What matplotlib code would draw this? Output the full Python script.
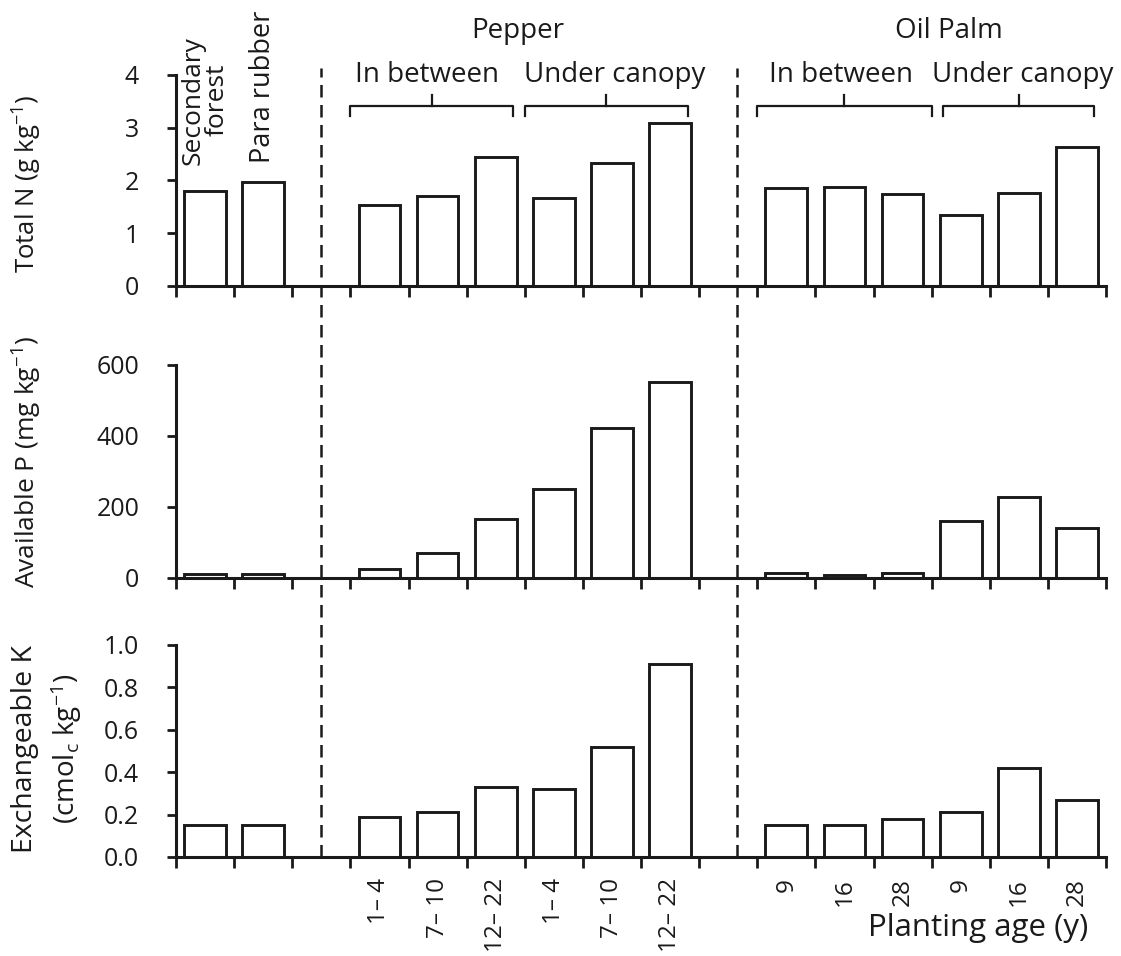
import matplotlib
matplotlib.use("Agg")
import matplotlib.pyplot as plt
from matplotlib.lines import Line2D
from matplotlib.transforms import blended_transform_factory

plt.rcParams["font.family"] = ["Open Sans", "DejaVu Sans"]
plt.rcParams["mathtext.fontset"] = "custom"
plt.rcParams["mathtext.rm"] = "Open Sans"
plt.rcParams["mathtext.it"] = "Open Sans:italic"

# slot index of each bar (slots 2 and 9 are empty gaps)
positions = [0, 1, 3, 4, 5, 6, 7, 8, 10, 11, 12, 13, 14, 15]
age_labels = ["", "", "1\u2013 4", "7\u2013 10", "12\u2013 22", "1\u2013 4", "7\u2013 10", "12\u2013 22",
              "9", "16", "28", "9", "16", "28"]

total_n = [1.81, 1.97, 1.53, 1.71, 2.45, 1.67, 2.34, 3.09, 1.86, 1.88, 1.75, 1.35, 1.77, 2.64]
avail_p = [10, 10, 25, 70, 164, 250, 423, 553, 12, 6, 14, 160, 227, 141]
exch_k = [0.15, 0.15, 0.19, 0.21, 0.33, 0.32, 0.52, 0.91, 0.15, 0.15, 0.18, 0.21, 0.42, 0.27]

W, H = 1121, 956
INK = "#1a1a1a"
fig = plt.figure(figsize=(W / 100, H / 100), dpi=100)


def fx(px):
    return px / W


def fy(py):
    return 1 - py / H


left, width = fx(176), fx(1106) - fx(176)
ax1 = fig.add_axes([left, fy(286), width, (286 - 75) / H])
ax2 = fig.add_axes([left, fy(577.5), width, (577.5 - 365) / H])
ax3 = fig.add_axes([left, fy(857), width, (857 - 645) / H])

centers = [p + 0.5 for p in positions]
panels = [(ax1, total_n, 4, [0, 1, 2, 3, 4], None),
          (ax2, avail_p, 600, [0, 200, 400, 600], None),
          (ax3, exch_k, 1.0, [0, 0.2, 0.4, 0.6, 0.8, 1.0], "{:.1f}")]

for ax, vals, ymax, yt, fmt in panels:
    ax.bar(centers, vals, width=0.72, color="white", edgecolor=INK, linewidth=2.1)
    ax.set_xlim(0, 16)
    ax.set_ylim(0, ymax)
    ax.set_yticks(yt)
    if fmt:
        ax.set_yticklabels([fmt.format(v) for v in yt])
    ax.set_xticks(range(17))
    ax.set_xticklabels([])
    for s in ("top", "right"):
        ax.spines[s].set_visible(False)
    for s in ("left", "bottom"):
        ax.spines[s].set_linewidth(2.2)
        ax.spines[s].set_color(INK)
    ax.tick_params(axis="y", direction="out", length=6.5, width=2.0, pad=20,
                   labelsize=18, color=INK, labelcolor=INK)
    ax.tick_params(axis="x", which="major", direction="out", length=8, width=2.0,
                   color=INK)

# rotated planting age labels under the bars of the bottom panel
ax3.set_xticks(centers, minor=True)
ax3.set_xticklabels(age_labels, minor=True, rotation=90, fontsize=17.5, color=INK)
ax3.tick_params(axis="x", which="minor", length=0, pad=15)

# y-axis titles
fig.text(fx(27), fy(184), "Total N (g kg$^{-1}$)", rotation=90, ha="center", va="center",
         fontsize=18.5, color=INK)
fig.text(fx(27), fy(462), "Available P (mg kg$^{-1}$)", rotation=90, ha="center", va="center",
         fontsize=19, color=INK)
fig.text(fx(25), fy(749), "Exchangeable K", rotation=90, ha="center", va="center",
         fontsize=20.5, color=INK)
fig.text(fx(66), fy(749), "(cmol$_\\mathregular{c}$ kg$^{-1}$)", rotation=90, ha="center",
         va="center", fontsize=20, color=INK)
fig.text(fx(978), fy(928), "Planting age (y)", ha="center", va="center", fontsize=22.5,
         color=INK)

# land-use labels for the first two bars
ax1.text(0.5, 2.3, "Secondary\nforest", rotation=90, ha="center", va="bottom",
         fontsize=19, linespacing=0.95, color=INK)
ax1.text(1.5, 2.33, "Para rubber", rotation=90, ha="center", va="bottom",
         fontsize=19.5, color=INK)

# group headings and brackets
ax1.text(5.88, 4.83, "Pepper", ha="center", va="center", fontsize=20, color=INK)
ax1.text(13.3, 4.83, "Oil Palm", ha="center", va="center", fontsize=20, color=INK)

brackets = [(3.0, 5.8, 4.4, 4.32, "In between"), (6.0, 8.8, 7.4, 7.54, "Under canopy"),
            (10.0, 13.0, 11.5, 11.44, "In between"), (13.2, 15.8, 14.5, 14.57, "Under canopy")]
y_end, y_bar, y_tip = 3.22, 3.41, 3.63
for x0, x1, xm, xt, label in brackets:
    ax1.plot([x0, x0, x1, x1], [y_end, y_bar, y_bar, y_end], color=INK, lw=1.6,
             solid_joinstyle="round", clip_on=False)
    ax1.plot([xm, xm], [y_bar, y_tip], color=INK, lw=1.6, clip_on=False)
    ax1.text(xt, 4.0, label, ha="center", va="center", fontsize=20, color=INK)

# dashed separators spanning all three panels
tr = blended_transform_factory(ax3.transData, fig.transFigure)
for xd in (2.5, 9.65):
    fig.add_artist(Line2D([xd, xd], [fy(857), fy(68)], transform=tr, color=INK,
                          lw=1.8, linestyle=(0, (5, 3))))

fig.savefig("out.png", dpi=100)
